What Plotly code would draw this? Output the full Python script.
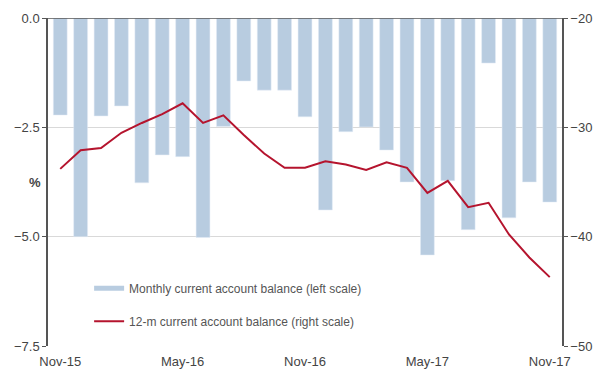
import plotly.graph_objects as go

months = ["Nov-15", "Dec-15", "Jan-16", "Feb-16", "Mar-16", "Apr-16", "May-16", "Jun-16",
          "Jul-16", "Aug-16", "Sep-16", "Oct-16", "Nov-16", "Dec-16", "Jan-17", "Feb-17",
          "Mar-17", "Apr-17", "May-17", "Jun-17", "Jul-17", "Aug-17", "Sep-17", "Oct-17", "Nov-17"]
monthly_balance = [-2.22, -5.0, -2.24, -2.01, -3.77, -3.13, -3.17, -5.02, -2.48, -1.44, -1.65, -1.65,
                   -2.26, -4.39, -2.6, -2.49, -3.02, -3.75, -5.42, -3.72, -4.84, -1.03, -4.57, -3.75, -4.21]
balance_12m = [-33.8, -32.1, -31.9, -30.5, -29.6, -28.8, -27.8, -29.6, -28.9, -30.7, -32.4, -33.7,
               -33.7, -33.1, -33.4, -33.9, -33.2, -33.7, -36.0, -34.9, -37.3, -36.9, -39.8, -41.9, -43.7]
tick_labels = ["Nov-15", "May-16", "Nov-16", "May-17", "Nov-17"]

x_idx = list(range(len(months)))
tick_idx = [months.index(t) for t in tick_labels]

BAR = "#b8cce0"
RED = "#b5142e"
AX = "#555555"
FONT = "Liberation Sans, Arial, sans-serif"

fig = go.Figure()
fig.add_trace(go.Bar(x=x_idx, y=monthly_balance, marker_color=BAR, width=0.68,
                     showlegend=False, hoverinfo="y"))
# legend proxies
fig.add_trace(go.Scatter(x=[None], y=[None], mode="lines", line=dict(color=BAR, width=5),
                         name="Monthly current account balance (left scale)", legendgroup="a"))
fig.add_trace(go.Scatter(x=x_idx, y=balance_12m, mode="lines", line=dict(color=RED, width=2),
                         name="12-m current account balance (right scale)", yaxis="y2",
                         showlegend=False))
fig.add_trace(go.Scatter(x=[None], y=[None], mode="lines", line=dict(color=RED, width=2),
                         name="12-m current account balance (right scale)", legendgroup="b"))

fig.update_layout(
    width=595, height=374,
    margin=dict(l=48, r=33, t=18, b=28, autoexpand=False),
    paper_bgcolor="white", plot_bgcolor="white",
    font=dict(family=FONT, size=13, color="#444444"),
    showlegend=True,
    legend=dict(x=0.08, y=0.22, xanchor="left", yanchor="top",
                bgcolor="rgba(0,0,0,0)", font=dict(size=12, color="#555555"),
                tracegroupgap=14, traceorder="grouped", itemwidth=30),
    xaxis=dict(range=[-0.6, 24.6], tickmode="array", tickvals=tick_idx, ticktext=tick_labels,
               showgrid=False, zeroline=False, showline=False, ticks="", fixedrange=True,
               automargin=False, ticklabelstandoff=6),
    yaxis=dict(range=[-7.5, 0], tickvals=[0, -2.5, -5, -7.5], tickformat=".1f",
               showgrid=True, gridcolor="#d9d9d9", gridwidth=1, zeroline=False,
               showline=True, linecolor=AX, linewidth=1.5, ticks="outside", ticklen=4,
               tickcolor=AX, automargin=False),
    yaxis2=dict(range=[-50, -20], tickvals=[-20, -30, -40, -50], overlaying="y", side="right",
                showgrid=False, zeroline=False, showline=True, linecolor=AX, linewidth=1.5,
                ticks="outside", ticklen=4, tickcolor=AX, automargin=False),
    shapes=[dict(type="line", xref="paper", yref="y", x0=0, x1=1, y0=0, y1=0,
                 line=dict(color=AX, width=1.5))],
    annotations=[dict(text="<b>%</b>", xref="paper", yref="paper", x=-0.025, y=0.497,
                      xanchor="center", yanchor="middle",
                      showarrow=False, font=dict(size=13, color="#444444"))],
)

fig.write_html("out.html", config={"displayModeBar": False},
               post_script="document.body.style.margin='0px';")
